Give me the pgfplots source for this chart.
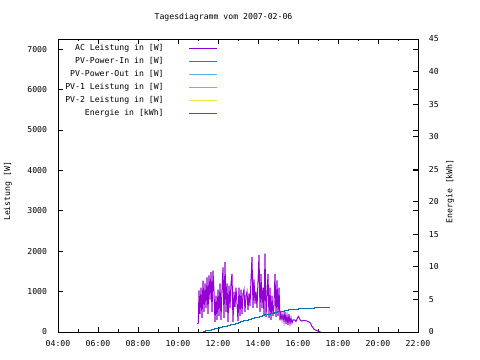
\documentclass[border=0pt]{standalone}
\usepackage{fontspec}
\setmainfont{DejaVu Sans Mono}
\usepackage{pgfplots}
\pgfplotsset{compat=1.18}
\definecolor{cAC}{HTML}{9400D3}
\definecolor{cIn}{HTML}{009E73}
\definecolor{cOut}{HTML}{56B4E9}
\definecolor{cPA}{HTML}{E69F00}
\definecolor{cPB}{HTML}{F0E442}
\definecolor{cE}{HTML}{0072B2}
\pgfplotstableread{
t w
658 210
661 220
663 1030
666 450
669 1100
672 350
675 1270
678 500
681 1200
684 600
687 1350
690 450
693 1400
696 800
699 1480
702 500
705 1520
708 1000
711 250
714 900
717 300
720 1050
723 400
726 1200
729 300
732 1050
735 1600
738 350
741 1730
744 500
747 1200
750 250
753 1150
756 600
759 1200
762 1440
765 250
768 1000
771 620
774 1100
777 700
780 270
783 1100
786 400
789 1050
792 450
795 950
798 1050
801 500
804 900
807 1000
810 550
813 950
816 650
819 1300
822 1850
825 600
828 1300
831 700
834 1000
837 600
840 1250
843 1900
846 500
849 1440
852 600
855 1100
858 400
861 1940
864 370
867 900
870 1440
873 350
876 1100
879 300
882 900
885 400
888 650
891 1440
894 370
897 1280
900 400
903 1100
906 290
909 450
912 300
915 450
918 250
921 500
924 200
927 420
930 170
933 450
936 200
939 350
942 220
945 300
950 300
954 260
958 340
961 385
964 340
968 280
972 270
976 290
982 280
988 270
994 240
998 220
1000 160
1004 120
1008 70
1012 50
1018 30
1024 10
1028 0
}\ac
\pgfplotstableread{
t e
669 0
675 0.1
682 0.2
690 0.3
700 0.4
708 0.5
716 0.6
724 0.7
732 0.8
740 0.9
748 1.0
756 1.1
764 1.2
772 1.35
780 1.45
788 1.55
796 1.7
804 1.8
812 1.95
820 2.05
828 2.2
836 2.3
844 2.45
852 2.55
860 2.65
868 2.75
878 2.85
888 3.0
898 3.1
908 3.2
920 3.35
932 3.5
962 3.6
1010 3.75
1056 3.75
}\energy
\begin{document}
\fontsize{8.2}{10}\selectfont
\begin{tikzpicture}
\pgfplotsset{
  common/.style={
    scale only axis, width=360bp, height=293bp,
    xmin=240, xmax=1320,
    axis line style={line width=0.8bp},
    tick style={line width=0.8bp, black},
    major tick length=5bp, minor tick length=2.5bp,
    tick align=inside,
    /pgf/number format/assume math mode=true,
    /pgf/number format/1000 sep={},
    label style={font=\fontsize{8.2}{10}\selectfont},
    tick label style={font=\fontsize{8.2}{10}\selectfont},
  }
}
\begin{axis}[common,
  ymin=0, ymax=7250,
  xtick={240,360,...,1320},
  xticklabels={04:00,06:00,08:00,10:00,12:00,14:00,16:00,18:00,20:00,22:00},
  minor xtick={300,420,...,1260},
  xtick pos=both, ytick pos=both,
  ytick={0,1000,...,7000},
  xticklabel style={yshift=-6bp},
  yticklabel style={xshift=-8bp},
  ylabel={Leistung [W]},
  ylabel style={at={(axis description cs:-0.139,0.48)}, anchor=center},
  legend plot pos=right,
  legend cell align=right,
  legend image code/.code={\draw[#1, line width=1bp] (0bp,0bp) -- (28bp,0bp);},
  legend style={draw=none, fill=none, at={(axis description cs:0.444,0.983)}, anchor=north east,
    inner sep=0pt, row sep=5bp, column sep=0bp,
    nodes={inner sep=0pt, text height=6bp, text depth=2bp, font=\fontsize{8.2}{10}\selectfont},
    /tikz/every odd column/.style={column sep=25bp}},
]
\addplot[cAC, line width=1bp] table[x=t, y=w] {\ac};
\addlegendentry{AC Leistung in [W]}
\addlegendimage{color=cIn}
\addlegendentry{PV-Power-In in [W]}
\addlegendimage{color=cOut}
\addlegendentry{PV-Power-Out in [W]}
\addlegendimage{color=cPA}
\addlegendentry{PV-1 Leistung in [W]}
\addlegendimage{color=cPB}
\addlegendentry{PV-2 Leistung in [W]}
\addlegendimage{color=cE}
\addlegendentry{Energie in [kWh]}
\end{axis}
\begin{axis}[common,
  ymin=0, ymax=45,
  axis x line=none, axis y line*=right,
  ytick={0,5,...,45},
  yticklabel style={xshift=8bp},
  ylabel={Energie [kWh]},
  ylabel style={at={(axis description cs:1.089,0.48)}, anchor=center, rotate=0},
]
\addplot[cE, line width=1bp, const plot] table[x=t, y=e] {\energy};
\end{axis}
\node[font=\fontsize{8.2}{10}\selectfont] at (165.5bp,315bp) {Tagesdiagramm vom 2007-02-06};
\path[use as bounding box] (-58bp,-28bp) rectangle (422bp,332bp);
\end{tikzpicture}
\end{document}
